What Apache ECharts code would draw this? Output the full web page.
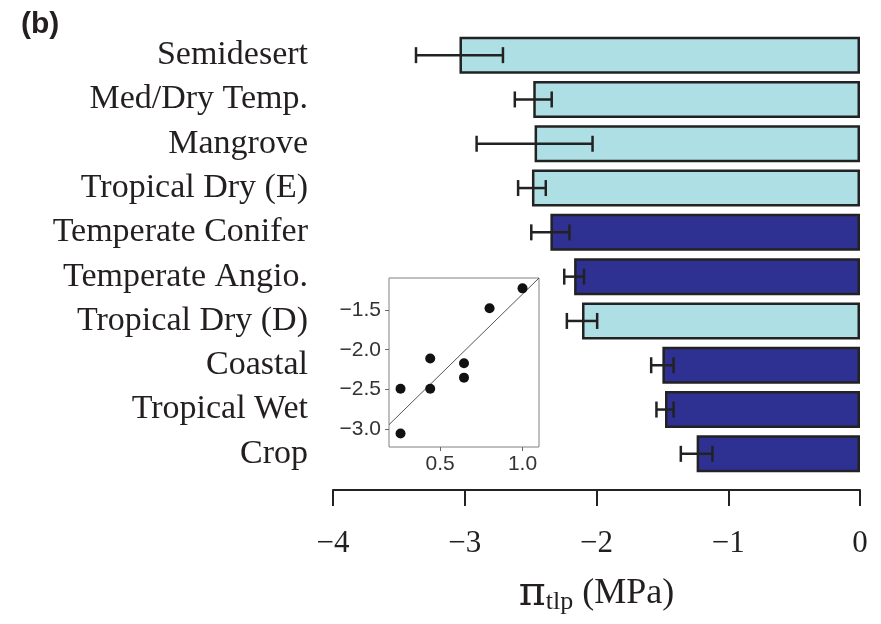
<!DOCTYPE html>
<html>
<head>
<meta charset="utf-8">
<script src="https://cdn.jsdelivr.net/npm/echarts@6/dist/echarts.min.js"></script>
<style>
  html, body { margin: 0; padding: 0; background: #fff; }
  #chart { width: 881px; height: 624px; }
</style>
</head>
<body>
<div id="chart"></div>
<script>
// main panel: turgor loss point by biome
const categories = ['Semidesert', 'Med/Dry Temp.', 'Mangrove', 'Tropical Dry (E)', 'Temperate Conifer',
  'Temperate Angio.', 'Tropical Dry (D)', 'Coastal', 'Tropical Wet', 'Crop']
const tlpMeans = [-3.04, -2.48, -2.47, -2.49, -2.35, -2.17, -2.11, -1.50, -1.48, -1.24]
const tlpErrors = [0.33, 0.14, 0.44, 0.105, 0.145, 0.075, 0.115, 0.085, 0.065, 0.12]
const groups = ['light', 'light', 'light', 'light', 'dark', 'dark', 'light', 'dark', 'dark', 'dark']

// inset scatter
const insetX = [0.26, 0.26, 0.44, 0.44, 0.645, 0.645, 0.80, 1.0]
const insetY = [-2.49, -3.05, -2.11, -2.49, -2.17, -2.35, -1.48, -1.23]
const insetXTicks = [0.5, 1.0]
const insetYTicks = [-3.0, -2.5, -2.0, -1.5]
const fitX = [0.19, 1.1]
const fitY = [-2.94, -1.10]

const colors = { light: '#aedfe4', dark: '#2e3192' }
const serif = "'Liberation Serif', 'Times New Roman', serif"
const sans = "'Liberation Sans', Arial, sans-serif"
const minus = v => (v < 0 ? '\u2212' + String(Math.abs(v)) : String(v))

const chart = echarts.init(document.getElementById('chart'), null, { renderer: 'canvas' })

const option = {
  animation: false,
  backgroundColor: '#fff',
  title: {
    text: '(b)',
    left: 16,
    top: 5,
    textStyle: { fontFamily: sans, fontWeight: 'bold', fontSize: 30, color: '#231f20' }
  },
  grid: [
    { left: 333, right: 21, top: 33, height: 443 },
    { left: 389, top: 278, width: 150, height: 169, show: true, borderColor: '#808080', borderWidth: 1, backgroundColor: '#fff', z: 5 }
  ],
  xAxis: [
    {
      gridIndex: 0,
      type: 'value',
      min: -4,
      max: 0,
      interval: 1,
      offset: 14,
      splitLine: { show: false },
      axisLine: { show: true, onZero: false, lineStyle: { color: '#222', width: 2 } },
      axisTick: { show: true, length: 16, lineStyle: { color: '#222', width: 2 } },
      axisLabel: {
        margin: 38,
        fontFamily: serif,
        fontSize: 31,
        color: '#231f20',
        formatter: minus
      },
      name: '{p|\u03c0}{s|tlp}{m| (MPa)}',
      nameLocation: 'middle',
      nameGap: 83,
      nameTextStyle: {
        rich: {
          p: { fontFamily: "'DejaVu Serif', serif", fontSize: 41, color: '#231f20', lineHeight: 42 },
          s: { fontFamily: serif, fontSize: 26, color: '#231f20', lineHeight: 26, padding: [18, 0, 0, 0], verticalAlign: 'bottom' },
          m: { fontFamily: serif, fontSize: 36, color: '#231f20', lineHeight: 42 }
        }
      }
    },
    {
      gridIndex: 1,
      type: 'value',
      min: 0.19,
      max: 1.1,
      splitLine: { show: false },
      axisLine: { show: false },
      axisTick: { show: true, length: 4, customValues: insetXTicks, lineStyle: { color: '#666' } },
      axisLabel: {
        margin: 7,
        fontFamily: sans,
        fontSize: 21,
        color: '#333',
        customValues: insetXTicks,
        formatter: v => v.toFixed(1)
      },
      z: 6
    }
  ],
  yAxis: [
    {
      gridIndex: 0,
      type: 'category',
      inverse: true,
      data: categories,
      axisLine: { show: false },
      axisTick: { show: false },
      axisLabel: { margin: 25, fontFamily: serif, fontSize: 34, color: '#231f20' }
    },
    {
      gridIndex: 1,
      type: 'value',
      min: -3.22,
      max: -1.1,
      splitLine: { show: false },
      axisLine: { show: false },
      axisTick: { show: true, length: 4, customValues: insetYTicks, lineStyle: { color: '#666' } },
      axisLabel: {
        margin: 8,
        fontFamily: sans,
        fontSize: 21,
        color: '#333',
        customValues: insetYTicks,
        formatter: v => (v < 0 ? '\u2212' : '') + Math.abs(v).toFixed(1)
      },
      z: 6
    }
  ],
  series: [
    {
      type: 'bar',
      xAxisIndex: 0,
      yAxisIndex: 0,
      barWidth: 37,
      data: tlpMeans.map((v, i) => ({
        value: v,
        itemStyle: { color: colors[groups[i]], borderColor: '#222', borderWidth: 2.5 }
      }))
    },
    {
      // error bars
      type: 'custom',
      xAxisIndex: 0,
      yAxisIndex: 0,
      z: 4,
      data: tlpMeans.map((v, i) => [v - tlpErrors[i], v + tlpErrors[i], i]),
      renderItem: (params, api) => {
        const lo = api.coord([api.value(0), api.value(2)])
        const hi = api.coord([api.value(1), api.value(2)])
        const cap = 8
        const style = { stroke: '#222', lineWidth: 2.5 }
        return {
          type: 'group',
          children: [
            { type: 'line', shape: { x1: lo[0], y1: lo[1], x2: hi[0], y2: hi[1] }, style },
            { type: 'line', shape: { x1: lo[0], y1: lo[1] - cap, x2: lo[0], y2: lo[1] + cap }, style },
            { type: 'line', shape: { x1: hi[0], y1: hi[1] - cap, x2: hi[0], y2: hi[1] + cap }, style }
          ]
        }
      }
    },
    {
      type: 'line',
      xAxisIndex: 1,
      yAxisIndex: 1,
      z: 7,
      showSymbol: false,
      silent: true,
      data: fitX.map((x, i) => [x, fitY[i]]),
      lineStyle: { color: '#555', width: 1 }
    },
    {
      type: 'scatter',
      xAxisIndex: 1,
      yAxisIndex: 1,
      z: 8,
      symbolSize: 10,
      data: insetX.map((x, i) => [x, insetY[i]]),
      itemStyle: { color: '#111', opacity: 1 }
    }
  ]
}

chart.setOption(option)
</script>
</body>
</html>
